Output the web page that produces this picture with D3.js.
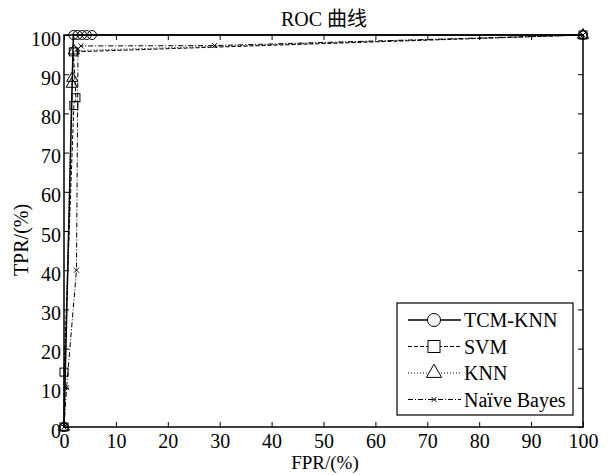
<!DOCTYPE html>
<html lang="zh">
<head>
    <meta charset="UTF-8">
    <title>ROC 曲线</title>
    <script src="https://cdn.jsdelivr.net/npm/d3@7"></script>
    <style>
        body { margin: 0; background: #fff; }
        text { font-family: "Liberation Serif", "Times New Roman", "Noto Sans CJK SC", serif; fill: #000; }
    </style>
</head>
<body>
<script>
    var width = 610, height = 475;
    var margin = {top: 35, right: 27, bottom: 48, left: 64};
    var w = width - margin.left - margin.right;
    var h = height - margin.top - margin.bottom;

    // 数据: FPR(%), TPR(%)
    var seriesNames = ["TCM-KNN", "SVM", "KNN", "Naïve Bayes"];
    var tcmFpr = [0, 1.8, 2.6, 3.5, 4.4, 5.4, 100];
    var tcmTpr = [0, 100, 100, 100, 100, 100, 100];
    var svmFpr = [0, 0, 1.9, 2.3, 1.8, 100];
    var svmTpr = [0, 14, 82, 84, 95.7, 100];
    var knnFpr = [0, 1.5, 1.6, 1.9, 100];
    var knnTpr = [0, 87.5, 89, 96, 100];
    var nbFpr = [0, 0.5, 2.4, 2.7, 3.3, 29, 100];
    var nbTpr = [0, 10, 40, 96.5, 97.2, 97.3, 100];
    var xTicks = [0, 10, 20, 30, 40, 50, 60, 70, 80, 90, 100];
    var yTicks = [0, 10, 20, 30, 40, 50, 60, 70, 80, 90, 100];

    var fprs = [tcmFpr, svmFpr, knnFpr, nbFpr];
    var tprs = [tcmTpr, svmTpr, knnTpr, nbTpr];
    var dashes = [null, "4,2", "1,2", "5,2,1,2"];
    var markers = ["circle", "square", "triangle", "cross"];

    var svg = d3.select("body").append("svg").attr("width", width).attr("height", height);
    var g = svg.append("g").attr("transform", "translate(" + margin.left + "," + margin.top + ")");

    var x = d3.scaleLinear().domain([0, 100]).range([0, w]);
    var y = d3.scaleLinear().domain([0, 100]).range([h, 0]);

    // 坐标轴(刻度朝内, 四周都有)
    function styleAxis(sel) {
        sel.select(".domain").remove();
        sel.selectAll(".tick line").attr("stroke", "#000").attr("stroke-width", 1);
        sel.selectAll("text").style("font-size", "20px");
    }
    g.append("g").attr("transform", "translate(0," + h + ")")
        .call(d3.axisBottom(x).tickValues(xTicks).tickSize(-5).tickPadding(7))
        .call(styleAxis);
    g.append("g")
        .call(d3.axisLeft(y).tickValues(yTicks).tickSize(-5).tickPadding(3))
        .call(styleAxis)
        .selectAll("text").attr("dy", "0.5em");
    g.append("g")
        .call(d3.axisTop(x).tickValues(xTicks).tickSize(-5).tickFormat(""))
        .call(styleAxis);
    g.append("g").attr("transform", "translate(" + w + ",0)")
        .call(d3.axisRight(y).tickValues(yTicks).tickSize(-5).tickFormat(""))
        .call(styleAxis);
    g.append("rect").attr("width", w).attr("height", h)
        .attr("fill", "none").attr("stroke", "#000").attr("stroke-width", 1.5);

    // 标记
    function drawMarker(sel, type) {
        if (type === "circle") {
            sel.append("circle").attr("r", 4.5);
        } else if (type === "square") {
            sel.append("rect").attr("x", -4).attr("y", -4).attr("width", 8).attr("height", 8);
        } else if (type === "triangle") {
            sel.append("path").attr("d", d3.symbol().type(d3.symbolTriangle).size(55));
        } else {
            sel.append("path").attr("d", "M-2.5,-2.5L2.5,2.5M-2.5,2.5L2.5,-2.5");
        }
        sel.attr("fill", "none").attr("stroke", "#000").attr("stroke-width", 1);
    }

    var line = d3.line().x(function(d) { return x(d[0]); }).y(function(d) { return y(d[1]); });

    fprs.forEach(function(fpr, i) {
        var pts = fpr.map(function(v, j) { return [v, tprs[i][j]]; });
        g.append("path").datum(pts)
            .attr("d", line)
            .attr("fill", "none").attr("stroke", "#000")
            .attr("stroke-width", i === 0 ? 1.5 : 1)
            .attr("stroke-dasharray", dashes[i]);
        g.selectAll(".m" + i).data(pts).enter().append("g")
            .attr("class", "m" + i)
            .attr("transform", function(d) { return "translate(" + x(d[0]) + "," + y(d[1]) + ")"; })
            .each(function() { drawMarker(d3.select(this), markers[i]); });
    });

    // 标题和轴标签
    svg.append("text").attr("x", 324).attr("y", 26)
        .attr("text-anchor", "middle").style("font-size", "20px").text("ROC 曲线");
    svg.append("text").attr("x", 325).attr("y", 469)
        .attr("text-anchor", "middle").style("font-size", "19px").text("FPR/(%)");
    svg.append("text").attr("transform", "translate(28,240) rotate(-90)")
        .attr("text-anchor", "middle").style("font-size", "20px").text("TPR/(%)");

    // 图例
    var lg = svg.append("g").attr("transform", "translate(397,303)");
    lg.append("rect").attr("width", 176).attr("height", 112)
        .attr("fill", "#fff").attr("stroke", "#000").attr("stroke-width", 1.2);
    seriesNames.forEach(function(name, i) {
        var yy = 17 + i * 26.5;
        lg.append("line").attr("x1", 11).attr("x2", 64).attr("y1", yy).attr("y2", yy)
            .attr("stroke", "#000").attr("stroke-width", i === 0 ? 1.5 : 1)
            .attr("stroke-dasharray", dashes[i]);
        var mk = lg.append("g").attr("transform", "translate(37," + yy + ")");
        drawMarker(mk, markers[i]);
        mk.selectAll("circle").attr("r", 6.5).attr("fill", "#fff");
        mk.selectAll("rect").attr("x", -6).attr("y", -6).attr("width", 12).attr("height", 12).attr("fill", "#fff");
        if (markers[i] === "triangle") mk.select("path").attr("d", d3.symbol().type(d3.symbolTriangle).size(100)).attr("fill", "#fff");
        lg.append("text").attr("x", 67).attr("y", yy + 7).style("font-size", "20px").text(name);
    });
</script>
</body>
</html>
